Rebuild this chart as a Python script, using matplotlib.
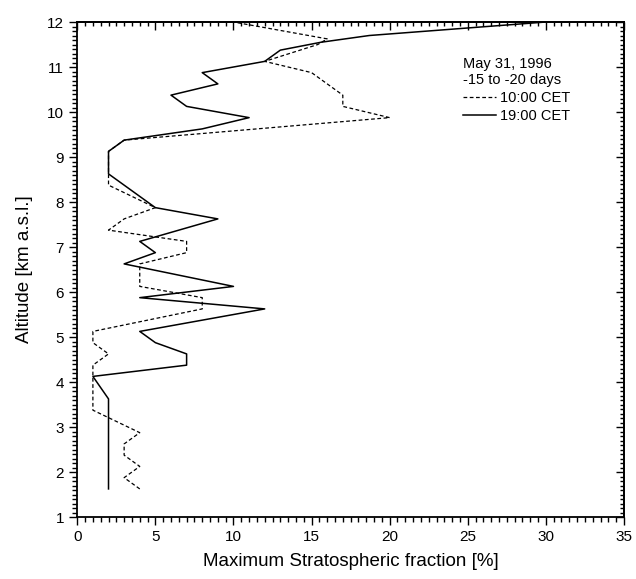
import numpy as np
import matplotlib
matplotlib.use('Agg')
import matplotlib.pyplot as plt
from matplotlib.ticker import MultipleLocator

plt.rcParams['font.family'] = ['Liberation Sans', 'DejaVu Sans']

# 10:00 CET profile (dashed)
alt_10 = [1.625, 1.875, 2.125, 2.375, 2.625, 2.875, 3.375, 4.375, 4.625, 4.875,
          5.125, 5.625, 5.875, 6.125, 6.625, 6.875, 7.125, 7.375, 7.625, 7.875,
          8.375, 8.625, 9.125, 9.375, 9.875, 10.125, 10.375, 10.625, 10.875,
          11.125, 11.5, 11.625, 11.875, 12.0]
frac_10 = [4, 3, 4, 3, 3, 4, 1, 1, 2, 1,
           1, 8, 8, 4, 4, 7, 7, 2, 3, 5,
           2, 2, 2, 3, 20, 17, 17, 16, 15,
           12, 15.4, 16, 12, 10]

# 19:00 CET profile (solid)
alt_19 = [1.625, 3.625, 4.125, 4.375, 4.625, 4.875, 5.125, 5.625, 5.875, 6.125,
          6.625, 6.875, 7.125, 7.625, 7.875, 8.625, 9.125, 9.375, 9.625, 9.875,
          10.125, 10.375, 10.625, 10.875, 11.125, 11.375, 11.55, 11.7, 12.0]
frac_19 = [2, 2, 1, 7, 7, 5, 4, 12, 4, 10,
           3, 5, 4, 9, 5, 2, 2, 3, 8, 11,
           7, 6, 9, 8, 12, 13, 15.6, 18.7, 30]

legend_title = "May 31, 1996\n-15 to -20 days"

fig = plt.figure(figsize=(6.36, 5.79), dpi=100)
ax = fig.add_axes([0.1215, 0.107, 0.8596, 0.855])

ax.plot(frac_10, alt_10, color='black', lw=0.9, dashes=(3, 2), label='10:00 CET')
ax.plot(frac_19, alt_19, color='black', lw=1.1, label='19:00 CET')

ax.set_xlim(0, 35)
ax.set_ylim(1, 12)
ax.xaxis.set_major_locator(MultipleLocator(5))
ax.xaxis.set_minor_locator(MultipleLocator(0.5))
ax.yaxis.set_major_locator(MultipleLocator(1))
ax.yaxis.set_minor_locator(MultipleLocator(0.1))

for s in ax.spines.values():
    s.set_linewidth(1.3)

ax.tick_params(which='both', direction='out', top=False, right=False,
               labelsize=11, width=1.0)
ax.tick_params(which='major', length=6)
ax.tick_params(which='minor', length=3.5)

# mirrored inward ticks on top and right
sec_x = ax.secondary_xaxis('top')
sec_x.xaxis.set_major_locator(MultipleLocator(5))
sec_x.xaxis.set_minor_locator(MultipleLocator(0.5))
sec_x.tick_params(which='both', direction='in', labeltop=False, width=1.0)
sec_x.tick_params(which='major', length=6)
sec_x.tick_params(which='minor', length=3)
sec_y = ax.secondary_yaxis('right')
sec_y.yaxis.set_major_locator(MultipleLocator(1))
sec_y.yaxis.set_minor_locator(MultipleLocator(0.1))
sec_y.tick_params(which='both', direction='in', labelright=False, width=1.0)
sec_y.tick_params(which='major', length=6)
sec_y.tick_params(which='minor', length=3)
sec_x.spines['top'].set_linewidth(1.3)
sec_y.spines['right'].set_linewidth(1.3)

ax.set_xlabel('Maximum Stratospheric fraction [%]', fontsize=13.5, labelpad=6)
ax.set_ylabel('Altitude [km a.s.l.]', fontsize=13.5, labelpad=10)

leg = ax.legend(title=legend_title, loc='upper left', bbox_to_anchor=(0.705, 0.93),
                frameon=False, fontsize=10.5, title_fontsize=10.5, borderpad=0,
                handlelength=2.3, handletextpad=0.25, labelspacing=0.3,
                alignment='left', borderaxespad=0)
leg._legend_box.sep = 3

fig.savefig('out.png', dpi=100)
